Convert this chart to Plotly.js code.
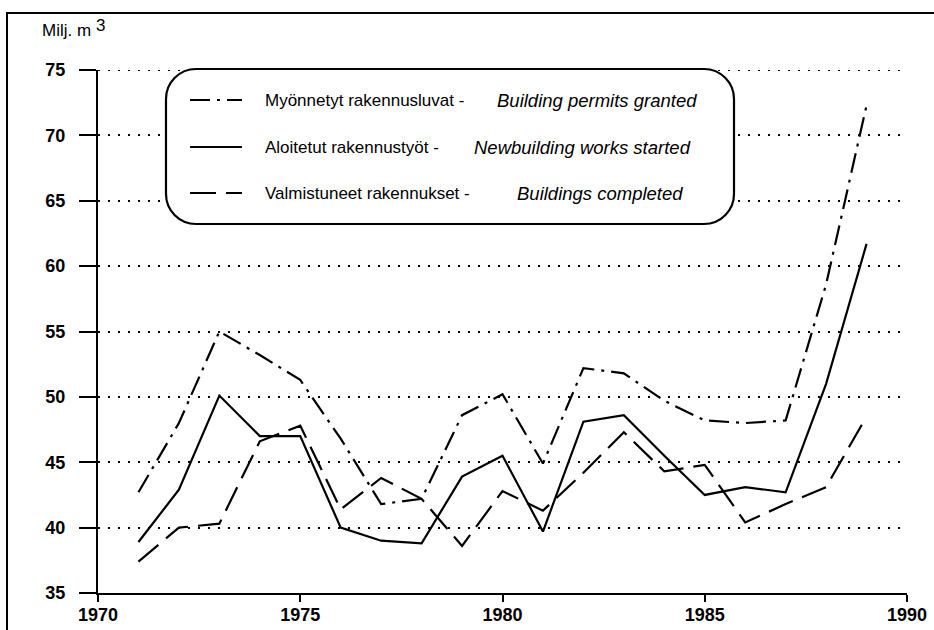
<!DOCTYPE html>
<html><head><meta charset="utf-8">
<script src="https://cdn.plot.ly/plotly-3.0.1.min.js"></script>
<style>html,body{margin:0;padding:0;background:#fff}</style>
</head><body><div id="chart" style="width:934px;height:630px"></div>
<script>
// ---- data ----
const years = [1971,1972,1973,1974,1975,1976,1977,1978,1979,1980,1981,1982,1983,1984,1985,1986,1987,1988,1989];
const permits   = [42.7,48.0,55.0,53.2,51.3,46.8,41.8,42.2,48.6,50.2,44.9,52.2,51.8,49.7,48.2,48.0,48.2,58.6,72.3];
const started   = [38.9,42.9,50.1,47.0,47.0,40.0,39.0,38.8,43.9,45.5,39.7,48.1,48.6,45.5,42.5,43.1,42.7,51.0,61.7];
const completed = [37.4,40.0,40.3,46.6,47.8,41.4,43.8,42.2,38.6,42.8,41.3,44.2,47.3,44.3,44.8,40.4,41.8,43.1,48.5];
const seriesFi = ["Myönnetyt rakennusluvat -", "Aloitetut rakennustyöt -", "Valmistuneet rakennukset -"];
const seriesEn = ["Building permits granted", "Newbuilding works started", "Buildings completed"];
const xTicks = [1970,1975,1980,1985,1990];
const yTicks = [35,40,45,50,55,60,65,70,75];
const yUnit = "Milj. m";
const yUnitSup = "3";

// ---- layout helpers ----
const W=934,H=630,L=98,R=27,T=70,B=37;
const pw=W-L-R, ph=H-T-B;
const px = x => (x-L)/pw;
const py = y => (H-B-y)/ph;
const FONT = "Liberation Sans, Arial, sans-serif";
const dashes = ["20px,7px,3px,7px", "solid", "26px,10px"];
const seriesData = [permits, started, completed];

const traces = seriesData.map((vals,i)=>({
  x: years, y: vals, type:'scatter', mode:'lines',
  line:{color:'#000', width:2.2, dash:dashes[i]},
  name: seriesFi[i]+' '+seriesEn[i], showlegend:false, hoverinfo:'skip'
}));

// rounded legend box
function roundedRect(x0,y0,x1,y1,r){
  const k=0.5523*r;
  const P=(x,y)=>px(x).toFixed(5)+','+py(y).toFixed(5);
  return 'M'+P(x0+r,y0)+' L'+P(x1-r,y0)+
    ' C'+P(x1-r+k,y0)+' '+P(x1,y0+r-k)+' '+P(x1,y0+r)+
    ' L'+P(x1,y1-r)+
    ' C'+P(x1,y1-r+k)+' '+P(x1-r+k,y1)+' '+P(x1-r,y1)+
    ' L'+P(x0+r,y1)+
    ' C'+P(x0+r-k,y1)+' '+P(x0,y1-r+k)+' '+P(x0,y1-r)+
    ' L'+P(x0,y0+r)+
    ' C'+P(x0,y0+r-k)+' '+P(x0+r-k,y0)+' '+P(x0+r,y0)+' Z';
}
const yMax = yTicks[yTicks.length-1];
const shapes = [
  // top gridline (Plotly omits the grid line at the range end)
  {type:'line', xref:'paper', yref:'y', x0:0, x1:1, y0:yMax, y1:yMax,
   line:{color:'#000', width:2, dash:'2px,8px'}, layer:'below'},
  {type:'rect', xref:'paper', yref:'paper', x0:px(7), y0:py(13), x1:px(950), y1:py(650),
   line:{color:'#000', width:2}, fillcolor:'rgba(0,0,0,0)', layer:'above'},
  {type:'path', xref:'paper', yref:'paper', path:roundedRect(166,69,734,224,30),
   line:{color:'#000', width:2.2}, fillcolor:'#fff', layer:'above'}
];
const rowY = [100,147,193];
const enX = [495,472,515];
const annotations = [
  {xref:'paper', yref:'paper', x:px(40), y:py(30), xanchor:'left', yanchor:'middle', showarrow:false,
   text:yUnit, font:{family:FONT, size:17, color:'#000'}},
  {xref:'paper', yref:'paper', x:px(94), y:py(25), xanchor:'left', yanchor:'middle', showarrow:false,
   text:yUnitSup, font:{family:FONT, size:17, color:'#000'}}
];
rowY.forEach((yy,i)=>{
  shapes.push({type:'line', xref:'paper', yref:'paper', x0:px(190), x1:px(242), y0:py(yy), y1:py(yy),
    line:{color:'#000', width:2.2, dash:dashes[i]}, layer:'above'});
  annotations.push({xref:'paper', yref:'paper', x:px(263), y:py(yy), xanchor:'left', yanchor:'middle',
    showarrow:false, text:seriesFi[i], font:{family:FONT, size:17, color:'#000'}});
  annotations.push({xref:'paper', yref:'paper', x:px(enX[i]), y:py(yy), xanchor:'left', yanchor:'middle',
    showarrow:false, text:'<i>'+seriesEn[i]+'</i>', font:{family:FONT, size:18.5, color:'#000'}});
});

const layout = {
  width:W, height:H, margin:{l:L, r:R, t:T, b:B, pad:0},
  paper_bgcolor:'#fff', plot_bgcolor:'#fff', showlegend:false,
  font:{family:FONT, color:'#000'},
  xaxis:{range:[1970,1990], tickvals:xTicks, ticktext:xTicks.map(String), ticks:'outside', ticklen:7,
    tickwidth:2, tickcolor:'#000', showline:true, linewidth:2, linecolor:'#000', showgrid:false,
    zeroline:false, tickfont:{family:FONT, size:18, color:'#000', weight:'bold'}, ticklabelstandoff:-3, fixedrange:true},
  yaxis:{range:[35,75], tickvals:yTicks, ticktext:yTicks.map(String), ticks:'outside', ticklen:17,
    tickwidth:2, tickcolor:'#000', showline:true, linewidth:2, linecolor:'#000', showgrid:true,
    gridcolor:'#000', gridwidth:2, griddash:'2px,8px', zeroline:false,
    tickfont:{family:FONT, size:18, color:'#000', weight:'bold'}, ticklabelstandoff:10, fixedrange:true},
  shapes, annotations
};
Plotly.newPlot('chart', traces, layout, {staticPlot:true, displayModeBar:false});
</script></body></html>
